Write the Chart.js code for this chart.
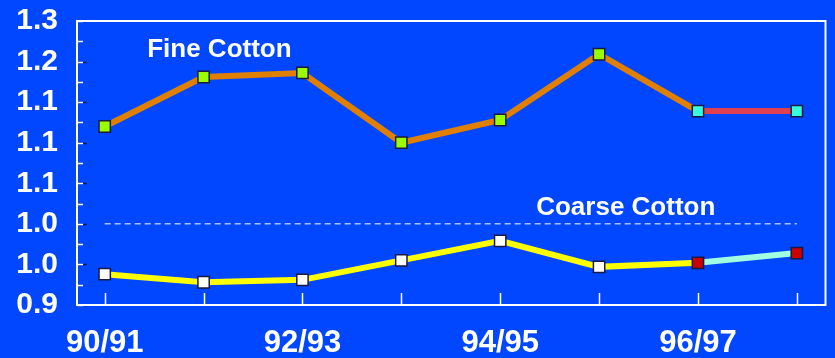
<!DOCTYPE html>
<html>
<head>
<meta charset="utf-8">
<script src="https://cdn.jsdelivr.net/npm/chart.js@4/dist/chart.umd.min.js"></script>
<style>
  html, body { margin: 0; padding: 0; background: #0047ff; }
  #c { display: block; }
</style>
</head>
<body>
<canvas id="c" width="835" height="358"></canvas>
<script>
// Crop seasons on the horizontal axis
const seasons = ['90/91', '91/92', '92/93', '93/94', '94/95', '95/96', '96/97', '97/98'];
// Price ratios per season
const fineCotton   = [1.120, 1.181, 1.186, 1.100, 1.128, 1.209, 1.139, 1.139];
const coarseCotton = [0.938, 0.928, 0.931, 0.955, 0.979, 0.947, 0.952, 0.964];
// Vertical axis ticks and their printed labels
const yTickValues = [0.90, 0.95, 1.00, 1.05, 1.10, 1.15, 1.20, 1.25];
const yTickLabels = ['0.9', '1.0', '1.0', '1.1', '1.1', '1.1', '1.2', '1.3'];
// Which seasons carry a printed label
const xLabelledSeasons = ['90/91', '92/93', '94/95', '96/97'];
// Parity reference level
const referenceLevel = 1.0;
// Series captions and their anchor (season index, value)
const seriesNames = ['Fine Cotton', 'Coarse Cotton'];
const captionAnchors = [[1.16, 1.215], [5.27, 1.0196]];

const FONT = '"Liberation Sans", Arial, sans-serif';
const BG = '#0047ff';
const firstProjected = 6; // last two seasons are projections

const toPoints = arr => arr.map((v, i) => ({ x: i, y: v }));
const markerColors = (base, proj) => seasons.map((_, i) => i >= firstProjected ? proj : base);

const framePlugin = {
  id: 'frame',
  beforeDraw(chart) {
    const ctx = chart.ctx;
    ctx.save();
    ctx.fillStyle = BG;
    ctx.fillRect(0, 0, chart.width, chart.height);
    ctx.restore();
  },
  beforeDatasetsDraw(chart) {
    const { ctx, chartArea: a, scales } = chart;
    const y = scales.y, x = scales.x;
    ctx.save();
    // major ticks (dark tips)
    ctx.strokeStyle = '#0b1f66';
    ctx.lineWidth = 1.5;
    yTickValues.forEach(v => {
      const py = Math.round(y.getPixelForValue(v)) + 0.5;
      ctx.beginPath(); ctx.moveTo(a.left, py); ctx.lineTo(a.left + 10, py); ctx.stroke();
    });
    // white inner ticks at every half step
    ctx.strokeStyle = '#ffffff';
    ctx.lineWidth = 1.5;
    for (let i = 0; i < yTickValues.length; i++) {
      const vals = [yTickValues[i]];
      if (i < yTickValues.length - 1) vals.push((yTickValues[i] + yTickValues[i + 1]) / 2);
      vals.forEach(v => {
        const py = Math.round(y.getPixelForValue(v)) + 0.5;
        ctx.beginPath(); ctx.moveTo(a.left, py); ctx.lineTo(a.left + 6, py); ctx.stroke();
      });
    }
    // season ticks rising from the bottom axis
    seasons.forEach((_, i) => {
      const px = Math.round(x.getPixelForValue(i)) + 0.5;
      ctx.beginPath(); ctx.moveTo(px, a.bottom); ctx.lineTo(px, a.bottom - 12); ctx.stroke();
    });
    // plot frame
    ctx.lineWidth = 2;
    ctx.strokeRect(a.left, a.top, a.right - a.left, a.bottom - a.top);
    ctx.restore();
  },
  afterDatasetsDraw(chart) {
    const { ctx, scales } = chart;
    ctx.save();
    ctx.fillStyle = '#ffffff';
    ctx.font = 'bold 26px ' + FONT;
    ctx.textAlign = 'center';
    ctx.textBaseline = 'middle';
    seriesNames.forEach((name, i) => {
      const [cx, cy] = captionAnchors[i];
      ctx.fillText(name, scales.x.getPixelForValue(cx), scales.y.getPixelForValue(cy));
    });
    ctx.restore();
  }
};

new Chart(document.getElementById('c'), {
  type: 'line',
  data: {
    datasets: [
      {
        label: seriesNames[0],
        data: toPoints(fineCotton),
        borderColor: '#e07f00',
        borderWidth: 6,
        segment: { borderColor: c => c.p0DataIndex >= firstProjected ? '#e04050' : undefined },
        pointStyle: 'rect',
        pointRadius: 8,
        pointBorderWidth: 1.5,
        pointBorderColor: '#1a1a40',
        pointBackgroundColor: markerColors('#99ff00', '#33ffdd'),
        tension: 0
      },
      {
        label: seriesNames[1],
        data: toPoints(coarseCotton),
        borderColor: '#ffff00',
        borderWidth: 6,
        segment: { borderColor: c => c.p0DataIndex >= firstProjected ? '#a0ffe0' : undefined },
        pointStyle: 'rect',
        pointRadius: 8,
        pointBorderWidth: 1.5,
        pointBorderColor: '#1a1a40',
        pointBackgroundColor: markerColors('#ffffff', '#cc0000'),
        tension: 0
      },
      {
        label: 'parity',
        data: [{ x: 0, y: referenceLevel }, { x: seasons.length - 1, y: referenceLevel }],
        borderColor: '#ffffff',
        borderWidth: 1,
        borderDash: [6, 4],
        pointRadius: 0
      }
    ]
  },
  options: {
    responsive: false,
    animation: false,
    devicePixelRatio: 1,
    layout: { padding: { top: 21, right: 9, left: 0, bottom: 0 } },
    plugins: { legend: { display: false }, tooltip: { enabled: false } },
    scales: {
      x: {
        type: 'linear',
        min: -0.28,
        max: seasons.length - 1 + 0.29,
        grid: { display: false },
        border: { display: false },
        afterBuildTicks: s => { s.ticks = seasons.map((_, i) => ({ value: i })); },
        afterFit: s => { s.height = 53; s.paddingLeft = 0; s.paddingRight = 0; },
        ticks: {
          autoSkip: false,
          maxRotation: 0,
          padding: 12,
          color: '#ffffff',
          font: { family: FONT, size: 31, weight: 'bold' },
          callback: v => xLabelledSeasons.includes(seasons[v]) ? seasons[v] : ''
        }
      },
      y: {
        min: yTickValues[0],
        max: yTickValues[yTickValues.length - 1],
        grid: { display: false },
        border: { display: false },
        afterBuildTicks: s => { s.ticks = yTickValues.map(v => ({ value: v })); },
        afterFit: s => { s.width = 77; s.paddingTop = 0; s.paddingBottom = 0; },
        ticks: {
          autoSkip: false,
          padding: 11,
          color: '#ffffff',
          font: { family: FONT, size: 30, weight: 'bold' },
          callback: (v, i) => yTickLabels[i]
        }
      }
    }
  },
  plugins: [framePlugin]
});
</script>
</body>
</html>
